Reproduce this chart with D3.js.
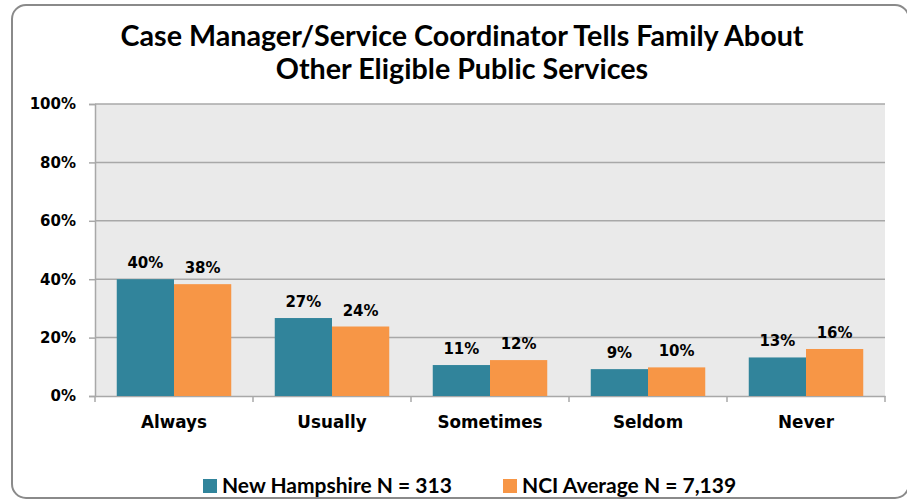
<!DOCTYPE html>
<html>
<head>
<meta charset="utf-8">
<script src="https://cdn.jsdelivr.net/npm/d3@7"></script>
<style>
  body { margin: 0; background: #fff; }
  svg { display: block; }
</style>
</head>
<body>
<div id="container"></div>
<script>
let w = 907;
let h = 500;

// data
let categories = ["Always", "Usually", "Sometimes", "Seldom", "Never"];
let seriesNames = ["New Hampshire N = 313", "NCI Average N = 7,139"];
let nhValues = [40.0, 26.7, 10.6, 9.2, 13.2];
let nciValues = [38.3, 23.8, 12.3, 9.8, 16.1];
let yTicks = [0, 20, 40, 60, 80, 100];
let colors = ["#31849B", "#F79646"];

let margin = {left: 95, right: 22, top: 104, bottom: 104};
let plotW = w - margin.left - margin.right;
let plotH = h - margin.top - margin.bottom;

let viz = d3.select("#container")
  .append("svg")
    .attr("width", w)
    .attr("height", h);

// outer frame
viz.append("rect")
  .attr("x", 12).attr("y", 5)
  .attr("width", 897).attr("height", 493)
  .attr("rx", 14).attr("ry", 14)
  .attr("fill", "#fff")
  .attr("stroke", "#8a8a8a")
  .attr("stroke-width", 2);

// title
let title = viz.append("text")
  .attr("x", 462)
  .attr("text-anchor", "middle")
  .attr("font-family", "Lato, 'Open Sans', sans-serif")
  .attr("font-weight", "bold")
  .attr("font-size", 28.7)
  .attr("fill", "#000");
title.append("tspan").attr("x", 462).attr("y", 46)
  .text("Case Manager/Service Coordinator Tells Family About");
title.append("tspan").attr("x", 462).attr("y", 79)
  .text("Other Eligible Public Services");

let x = d3.scaleBand()
  .domain(categories)
  .range([0, plotW])
  .paddingInner(0)
  .paddingOuter(0);

let xInner = d3.scaleBand()
  .domain([0, 1])
  .range([0, x.bandwidth()])
  .paddingInner(0)
  .paddingOuter(0.38);

let y = d3.scaleLinear()
  .domain([0, 100])
  .range([plotH, 0]);

let plot = viz.append("g")
  .attr("transform", "translate(" + margin.left + "," + margin.top + ")");

plot.append("rect")
  .attr("width", plotW)
  .attr("height", plotH)
  .attr("fill", "#EAEAEA");

// gridlines
plot.selectAll(".grid").data(yTicks.filter(d => d > 0)).enter()
  .append("line")
    .attr("class", "grid")
    .attr("x1", 0).attr("x2", plotW)
    .attr("y1", d => y(d)).attr("y2", d => y(d))
    .attr("stroke", "#A8A8A8")
    .attr("stroke-width", 1.5);

// y axis
let yAxis = d3.axisLeft(y)
  .tickValues(yTicks)
  .tickFormat(d => d + "%")
  .tickSize(6)
  .tickPadding(13);

let yg = plot.append("g").call(yAxis);
yg.select(".domain").attr("stroke", "#A8A8A8").attr("stroke-width", 1.5);
yg.selectAll(".tick line").attr("stroke", "#A8A8A8").attr("stroke-width", 1.5);
yg.selectAll(".tick text")
  .attr("font-family", "'DejaVu Sans', Verdana, sans-serif")
  .attr("font-weight", "bold")
  .attr("font-size", 15)
  .attr("fill", "#000");

// x axis
let xAxis = d3.axisBottom(x).tickSize(0).tickPadding(20);
let xg = plot.append("g")
  .attr("transform", "translate(0," + plotH + ")")
  .call(xAxis);
xg.select(".domain").attr("stroke", "#A8A8A8").attr("stroke-width", 1.5);
xg.selectAll(".tick text")
  .attr("font-family", "'DejaVu Sans', Verdana, sans-serif")
  .attr("font-weight", "bold")
  .attr("font-size", 16.8)
  .attr("fill", "#000");

// category boundary ticks
let bounds = categories.map(c => x(c)).concat([plotW]);
xg.selectAll(".bound").data(bounds).enter()
  .append("line")
    .attr("class", "bound")
    .attr("x1", d => d).attr("x2", d => d)
    .attr("y1", 0).attr("y2", 6)
    .attr("stroke", "#A8A8A8")
    .attr("stroke-width", 1.5);

// bars
let series = [nhValues, nciValues];
series.forEach(function(vals, s){
  let grp = plot.append("g").attr("class", "series" + s);
  grp.selectAll("rect").data(vals).enter()
    .append("rect")
      .attr("x", (d, i) => x(categories[i]) + xInner(s))
      .attr("y", d => y(d))
      .attr("width", xInner.bandwidth())
      .attr("height", d => plotH - y(d))
      .attr("fill", colors[s]);
  grp.selectAll("text").data(vals).enter()
    .append("text")
      .attr("x", (d, i) => x(categories[i]) + xInner(s) + xInner.bandwidth() / 2)
      .attr("y", d => y(d) - 11)
      .attr("text-anchor", "middle")
      .attr("font-family", "'DejaVu Sans', Verdana, sans-serif")
      .attr("font-weight", "bold")
      .attr("font-size", 15)
      .attr("fill", "#000")
      .text(d => Math.round(d) + "%");
});

// legend
let legendX = [203, 503];
let legend = viz.selectAll(".legend").data(seriesNames).enter()
  .append("g")
    .attr("class", "legend")
    .attr("transform", (d, i) => "translate(" + legendX[i] + ",479)");
legend.append("rect")
  .attr("width", 14).attr("height", 14)
  .attr("fill", (d, i) => colors[i]);
legend.append("text")
  .attr("x", 19)
  .attr("y", 14)
  .attr("font-family", "Lato, 'Open Sans', sans-serif")
  .attr("font-weight", "bold")
  .attr("font-size", 21)
  .attr("fill", "#000")
  .text(d => d);
</script>
</body>
</html>
